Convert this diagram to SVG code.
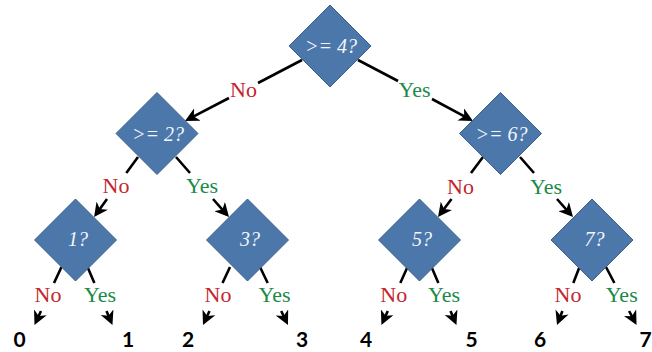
<svg xmlns="http://www.w3.org/2000/svg" width="652" height="352" viewBox="0 0 652 352">
<style>
.d{fill:#4B77AA;stroke:#3B608C;stroke-width:1}
.q{font-family:"Liberation Serif","DejaVu Serif",serif;font-style:italic;font-size:20px;fill:#F4F6FA;text-anchor:middle}
.c{fill:none;stroke:#000;stroke-width:2.6;marker-end:url(#ah)}
.no{font-family:"Liberation Serif","DejaVu Serif",serif;font-size:22px;fill:#C3262E;text-anchor:middle}
.yes{font-family:"Liberation Serif","DejaVu Serif",serif;font-size:22px;fill:#1B8A47;text-anchor:middle}
.leaf{font-family:Lato,"Liberation Sans",sans-serif;font-weight:bold;font-size:21px;fill:#000;text-anchor:middle}
</style>
<defs>
<marker id="ah" viewBox="0 0 14 14" refX="9" refY="7" markerWidth="14" markerHeight="14" markerUnits="userSpaceOnUse" orient="auto">
<path d="M14,7 L0,0 L4,7 L0,14 Z" fill="#000"/>
</marker>
</defs>
<rect width="652" height="352" fill="#fff"/>
<g id="connectors">
<path class="c" d="M302,60 L258,83 M229,98 L189.4,118.7"/>
<path class="c" d="M358,60 L398,81 M432,99 L468.6,118.7"/>
<path class="c" d="M138,157 L126.3,173 M107,199 L97,213"/>
<path class="c" d="M176,157 L190,173 M213,199 L225.7,213.3"/>
<path class="c" d="M483,157 L471,173 M451.5,199 L441,213"/>
<path class="c" d="M520,157 L534,173 M557,199 L569.7,213.3"/>
<path class="c" d="M61.5,267 L54,283 M41,311 L36.6,320.5"/>
<path class="c" d="M87.5,267 L94.4,283 M106.5,311 L110.5,320.4"/>
<path class="c" d="M230,267 L222.5,283 M209.5,311 L205.1,320.5"/>
<path class="c" d="M260,267 L267.7,283 M281.2,311 L285.8,320.5"/>
<path class="c" d="M407.5,267 L400.3,283 M387.8,311 L383.5,320.4"/>
<path class="c" d="M431.5,267 L438.4,283 M450.5,311 L454.5,320.4"/>
<path class="c" d="M579.5,267 L573.3,283 M562.4,311 L558.8,320.3"/>
<path class="c" d="M606,267 L614.4,283 M629.1,311 L634.2,320.6"/>
<text class="no" x="243.5" y="97">No</text>
<text class="yes" x="414.5" y="97">Yes</text>
<text class="no" x="116" y="193">No</text>
<text class="yes" x="202" y="193">Yes</text>
<text class="no" x="460.5" y="194">No</text>
<text class="yes" x="546" y="194">Yes</text>
<text class="no" x="48" y="302">No</text>
<text class="yes" x="100" y="302">Yes</text>
<text class="no" x="218" y="302">No</text>
<text class="yes" x="274.5" y="302">Yes</text>
<text class="no" x="393.8" y="302">No</text>
<text class="yes" x="444" y="302">Yes</text>
<text class="no" x="568" y="302">No</text>
<text class="yes" x="621.7" y="302">Yes</text>
</g>
<g id="n4"><polygon class="d" points="330,5 371,46 330,87 289,46"/><text class="q" x="331" y="53">&gt;= 4?</text></g>
<g id="n2"><polygon class="d" points="157,92.5 198,133.5 157,174.5 116,133.5"/><text class="q" x="158" y="140.5">&gt;= 2?</text></g>
<g id="n6"><polygon class="d" points="500.5,92.5 541.5,133.5 500.5,174.5 459.5,133.5"/><text class="q" x="501.5" y="140.5">&gt;= 6?</text></g>
<g id="n1"><polygon class="d" points="75.5,199 116.5,240 75.5,281 34.5,240"/><text class="q" x="78" y="246">1?</text></g>
<g id="n3"><polygon class="d" points="247.5,199 288.5,240 247.5,281 206.5,240"/><text class="q" x="250" y="246">3?</text></g>
<g id="n5"><polygon class="d" points="419.5,199 460.5,240 419.5,281 378.5,240"/><text class="q" x="422" y="246">5?</text></g>
<g id="n7"><polygon class="d" points="592,199 633,240 592,281 551,240"/><text class="q" x="594.5" y="246">7?</text></g>
<g id="leaf0"><text class="leaf" x="19.5" y="346.5">0</text></g>
<g id="leaf1"><text class="leaf" x="128" y="346.5">1</text></g>
<g id="leaf2"><text class="leaf" x="188" y="346.5">2</text></g>
<g id="leaf3"><text class="leaf" x="302" y="346.5">3</text></g>
<g id="leaf4"><text class="leaf" x="366" y="346.5">4</text></g>
<g id="leaf5"><text class="leaf" x="471.5" y="346.5">5</text></g>
<g id="leaf6"><text class="leaf" x="540" y="346.5">6</text></g>
<g id="leaf7"><text class="leaf" x="645.5" y="346.5">7</text></g>
</svg>
